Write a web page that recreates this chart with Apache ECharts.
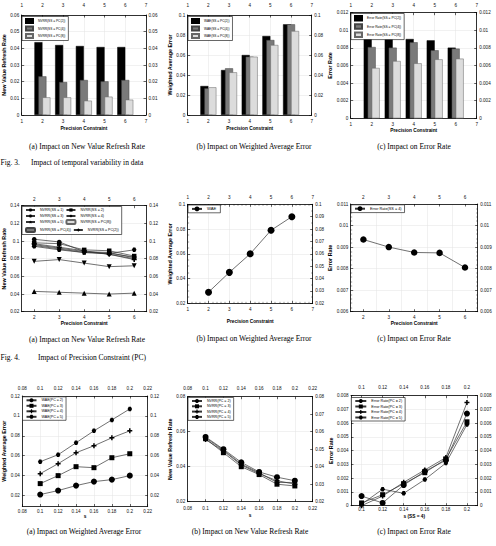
<!DOCTYPE html>
<html><head><meta charset="utf-8">
<script src="https://cdn.jsdelivr.net/npm/echarts@6/dist/echarts.min.js"></script>
<style>html,body{margin:0;padding:0;background:#fff}#c{width:496px;height:546px}</style>
</head><body><div id="c"></div>
<script>
// ---------------- DATA ----------------
const pcAxisCats = ['1','2','3','4','5','6','7'];   // Fig.3 x axis categories
const pcPointCats = ['2','3','4','5','6'];          // Fig.4 (a),(c) x categories
const pcValues = [2,3,4,5,6];
const sValues = [0.1,0.12,0.14,0.16,0.18,0.2];
const sTicksC = [0.1,0.12,0.14,0.16,0.18,0.2];
const waeRow3Ticks = [0.02,0.04,0.06,0.08,0.1,0.12];

// Fig. 3 (a) NVRR bars
const nvrrBarPC2 = [0.0437,0.0420,0.0414,0.0408,0.0408];
const nvrrBarPC4 = [0.0232,0.0198,0.0210,0.0202,0.0210];
const nvrrBarPC8 = [0.0106,0.0106,0.0086,0.0110,0.0092];
// Fig. 3 (b) WAE bars
const waeBarPC2 = [0.0290,0.0450,0.0600,0.0790,0.0907];
const waeBarPC4 = [0.0267,0.0467,0.0583,0.0750,0.0907];
const waeBarPC8 = [0.0277,0.0427,0.0583,0.0700,0.0840];
// Fig. 3 (c) Error rate bars
const errBarPC2 = [0.00909,0.00898,0.00901,0.00886,0.00803];
const errBarPC4 = [0.00810,0.00803,0.00864,0.00773,0.00792];
const errBarPC8 = [0.00572,0.00651,0.00625,0.00670,0.00678];

// Fig. 4 (a) NVRR lines
const nvrrSS1 = [0.102,0.099,0.088,0.087,0.081];
const nvrrSS2 = [0.098,0.097,0.090,0.089,0.083];
const nvrrSS3 = [0.094,0.090,0.087,0.086,0.090];
const nvrrSS4 = [0.096,0.092,0.088,0.085,0.080];
const nvrrSS5 = [0.095,0.091,0.087,0.086,0.082];
const nvrrSSPC8 = [0.043,0.042,0.041,0.040,0.041];
const nvrrSSPC4 = [0.077,0.079,0.075,0.071,0.072];
const nvrrSSPC2 = [0.097,0.093,0.089,0.085,0.079];
// Fig. 4 (b) WAE
const waePC = [0.029,0.045,0.060,0.079,0.090];
// Fig. 4 (c) Error rate
const errSS4 = [0.00935,0.00900,0.00875,0.00873,0.00805];

// Row 3 (a) WAE vs s
const waeS_PC2 = [0.021,0.025,0.030,0.034,0.036,0.040];
const waeS_PC3 = [0.032,0.040,0.049,0.048,0.058,0.062];
const waeS_PC4 = [0.042,0.052,0.063,0.070,0.078,0.085];
const waeS_PC5 = [0.054,0.061,0.073,0.085,0.096,0.107];
// Row 3 (b) NVRR vs s
const nvrrS_PC2 = [0.0570,0.0500,0.0425,0.0370,0.0340,0.0320];
const nvrrS_PC3 = [0.0560,0.0480,0.0400,0.0355,0.0300,0.0290];
const nvrrS_PC4 = [0.0555,0.0490,0.0410,0.0360,0.0320,0.0300];
const nvrrS_PC5 = [0.0565,0.0495,0.0415,0.0365,0.0310,0.0310];
// Row 3 (c) Error rate vs s
const errS_PC2 = [0.0007,0.0002,0.0015,0.0025,0.0033,0.0067];
const errS_PC3 = [0.0002,0.0008,0.0016,0.0024,0.0034,0.0061];
const errS_PC4 = [0.0000,0.0007,0.0017,0.0026,0.0035,0.0075];
const errS_PC5 = [0.0001,0.0012,0.0009,0.0019,0.0031,0.0059];

// ---------------- BUILD ----------------
const SANS = 'Liberation Sans';
const ZW = '\u200B';
const HEX = 'path://M-0.5,-0.87L0.5,-0.87L1,0L0.5,0.87L-0.5,0.87L-1,0Z';
const PLUS = 'path://M-0.3,-1H0.3V-0.3H1V0.3H0.3V1H-0.3V0.3H-1V-0.3H-0.3Z';
const STAR = 'path://M0,-1L0.29,-0.4L0.95,-0.31L0.47,0.15L0.59,0.81L0,0.5L-0.59,0.81L-0.47,0.15L-0.95,-0.31L-0.29,-0.4Z';
const TRIDOWN = 'path://M-1,-0.87L1,-0.87L0,0.87Z';

function merge(a,b){
  const o = Object.assign({}, a);
  for (const k in b){
    const v = b[k];
    if (v && typeof v === 'object' && !Array.isArray(v) && a && a[k] && typeof a[k] === 'object' && !Array.isArray(a[k])) o[k] = merge(a[k], v);
    else o[k] = v;
  }
  return o;
}
const grids=[], xAxes=[], yAxes=[], series=[], legends=[], graphics=[];
const GRID_LINE = {show:true, lineStyle:{color:'#e2e2e2', width:0.5}};

function panel(p){
  const g = grids.length;
  grids.push({left:p.left, top:p.top, width:p.width, height:p.height, containLabel:false, outerBoundsMode:'none'});
  const base = {
    gridIndex:g,
    axisLine:{show:true, onZero:false, lineStyle:{color:'#000', width:0.8}},
    axisTick:{show:true, inside:true, length:2.5, lineStyle:{color:'#000', width:0.6}},
    axisLabel:{show:true, fontFamily:SANS, fontSize:4.6, color:'#111', margin:3},
    splitLine:{show:false},
    nameTextStyle:{fontFamily:SANS, fontWeight:'bold', fontSize:4.8, color:'#000'}
  };
  const xb = merge(base, p.x);
  xAxes.push(merge(xb, {position:'bottom', name:p.xName, nameLocation:'middle', nameGap:p.xNameGap, splitLine:GRID_LINE, axisLabel:{margin:p.xLabelMargin}}));
  xAxes.push(merge(xb, {position:'top', axisLabel:{margin:p.topLabelMargin}}));
  const yb = merge(base, p.y);
  yAxes.push(merge(yb, {position:'left', name:p.yName, nameLocation:'middle', nameGap:p.yNameGap, nameTextStyle:{fontSize:5.4}, splitLine:GRID_LINE, axisLabel:{margin:2.5}}));
  yAxes.push(merge(merge(yb, p.yRight || {}), {position:'right', axisLabel:{margin:2.5}}));
  return g;
}
function pad(v){ return [null].concat(v, [null]); }
function pairs(xs, ys){ return xs.map((x,i)=>[x, ys[i]]); }

function barSeries(g, name, vals, color, border){
  series.push({type:'bar', name, xAxisIndex:2*g, yAxisIndex:2*g, data:pad(vals), barWidth:8, barGap:'-50%',
    itemStyle:{color, borderColor:border, borderWidth:0.5}});
}
function lineSeries(g, name, data, symbol, size){
  series.push({type:'line', name, xAxisIndex:2*g, yAxisIndex:2*g, data, symbol, symbolSize:size,
    lineStyle:{color:'#333', width:0.7}, itemStyle:{color:'#000', borderWidth:0}});
}
function legend(names, opt){
  legends.push(merge({data:names, orient:'vertical', selectedMode:false, itemWidth:10, itemHeight:4, itemGap:1.5,
    padding:[1.5,3,1.5,3], borderColor:'#000', borderWidth:0.6, borderRadius:0, backgroundColor:'#fff',
    textStyle:{fontFamily:SANS, fontSize:3.6, color:'#000'}}, opt));
}
function caption(text, x, y, align, font, fill){
  graphics.push({type:'text', x, y, silent:true, style:{text, fill:fill||'#000', font:font||'7.5px "Liberation Serif"',
    align:align||'center', verticalAlign:'middle', textAlign:align||'center', textVerticalAlign:'middle'}});
}

// ---- Fig.3 row ----
const catX17 = {type:'category', data:pcAxisCats, boundaryGap:false, axisTick:{alignWithLabel:true}};
let g;
g = panel({left:21.7, top:15, width:124.3, height:100, x:catX17, y:{type:'value', min:0, max:0.06, interval:0.01},
  xName:'Precision Constraint', xNameGap:11, xLabelMargin:4, topLabelMargin:7, yName:'New Value Refresh Rate', yNameGap:14});
barSeries(g,'NVRR(SS = PC(2))',nvrrBarPC2,'#000','#000');
barSeries(g,'NVRR(SS = PC(4))',nvrrBarPC4,'#7a7a7a','#444');
barSeries(g,'NVRR(SS = PC(8))',nvrrBarPC8,'#dcdcdc','#666');
legend(['NVRR(SS = PC(2))','NVRR(SS = PC(4))','NVRR(SS = PC(8))'], {left:22, top:16.5, icon:'rect', itemWidth:7, itemHeight:4, textStyle:{fontSize:3.2}});

g = panel({left:187.7, top:15, width:124, height:100, x:catX17, y:{type:'value', min:0, max:0.1, interval:0.02},
  xName:'Precision Constraint', xNameGap:11, xLabelMargin:4, topLabelMargin:7, yName:'Weighted Average Error', yNameGap:14});
barSeries(g,'WAE(SS = PC(2))',waeBarPC2,'#000','#000');
barSeries(g,'WAE(SS = PC(4))',waeBarPC4,'#7a7a7a','#444');
barSeries(g,'WAE(SS = PC(8))',waeBarPC8,'#dcdcdc','#666');
legend(['WAE(SS = PC(2))','WAE(SS = PC(4))','WAE(SS = PC(8))'], {left:188, top:16.5, icon:'rect', itemWidth:7, itemHeight:4, textStyle:{fontSize:3.2}});

g = panel({left:350.7, top:12.7, width:126, height:105.6, x:catX17, y:{type:'value', min:0, max:0.012, interval:0.002},
  xName:'Precision Constraint', xNameGap:8, xLabelMargin:4, topLabelMargin:4.5, yName:'Error Rate', yNameGap:15});
barSeries(g,'Error Rate(SS = PC(2))',errBarPC2,'#000','#000');
barSeries(g,'Error Rate(SS = PC(4))',errBarPC4,'#7a7a7a','#444');
barSeries(g,'Error Rate(SS = PC(8))',errBarPC8,'#dcdcdc','#666');
legend(['Error Rate(SS = PC(2))','Error Rate(SS = PC(4))','Error Rate(SS = PC(8))'], {left:351, top:13.5, icon:'rect', itemWidth:7, itemHeight:4.5, itemGap:1.8, textStyle:{fontSize:3.3}});

caption('(a) Impact on New Value Refresh Rate', 87, 146);
caption('(b) Impact on Weighted Average Error', 254, 146);
caption('(c) Impact on Error Rate', 414, 146);
caption('Fig. 3.', 0.5, 162, 'left');
caption('Impact of temporal variability in data', 31, 162, 'left');

// ---- Fig.4 row ----
const catX26 = {type:'category', data:pcPointCats, boundaryGap:true, axisTick:{alignWithLabel:true}};
g = panel({left:21.7, top:205.7, width:125, height:106, x:catX26, y:{type:'value', min:0.02, max:0.14, interval:0.02},
  xName:'Precision Constraint', xNameGap:9, xLabelMargin:3, topLabelMargin:4, yName:'New Value Refresh Rate', yNameGap:14});
lineSeries(g,'NVRR(SS = 1)',nvrrSS1,'circle',4.5);
lineSeries(g,'NVRR(SS = 2)',nvrrSS2,'rect',4.5);
lineSeries(g,'NVRR(SS = 3)',nvrrSS3,HEX,4.5);
lineSeries(g,'NVRR(SS = 4)',nvrrSS4,'diamond',4);
lineSeries(g,'NVRR(SS = 5)',nvrrSS5,STAR,5);
lineSeries(g,'NVRR(SS = PC(8))',nvrrSSPC8,'triangle',5);
lineSeries(g,'NVRR(SS = PC(4))',nvrrSSPC4,TRIDOWN,5);
lineSeries(g,'NVRR(SS = PC(2))'+ZW,nvrrSSPC2,PLUS,5);
legend(['NVRR(SS = 1)','NVRR(SS = 2)','NVRR(SS = 3)','NVRR(SS = 4)','NVRR(SS = 5)','NVRR(SS = PC(8))','NVRR(SS = PC(4))','NVRR(SS = PC(2))'+ZW],
  {orient:'horizontal', left:22, top:206.5, width:119, itemWidth:9, itemHeight:4, itemGap:2, padding:[1.5,3,1.5,3], textStyle:{fontSize:3.6}});

g = panel({left:187.7, top:204.3, width:125, height:99, x:{type:'value', min:1, max:7, interval:1, minorTick:{show:true, splitNumber:5, length:1.5, lineStyle:{color:'#000', width:0.4}}},
  y:{type:'value', min:0.02, max:0.1, interval:0.02, minorTick:{show:true, splitNumber:4, length:1.5, lineStyle:{color:'#000', width:0.4}}},
  yRight:{interval:0.01, minorTick:{splitNumber:2}},
  xName:'Precision Constraint', xNameGap:16, xLabelMargin:3.5, topLabelMargin:4, yName:'Weighted Average Error', yNameGap:15});
lineSeries(g,'WAE',pairs(pcValues,waePC),'circle',7);
legend(['WAE'], {left:188, top:205, itemWidth:10, itemHeight:6, textStyle:{fontSize:4.2}, padding:[1.5,4,1.5,3]});

g = panel({left:350.7, top:204, width:127, height:107.7, x:catX26,
  y:{type:'value', min:0.006, max:0.011, interval:0.001, minorTick:{show:true, splitNumber:5, length:1.5, lineStyle:{color:'#000', width:0.4}}},
  xName:'Precision Constraint', xNameGap:9, xLabelMargin:3, topLabelMargin:4, yName:'Error Rate', yNameGap:15});
lineSeries(g,'Error Rate(SS = 4)',errSS4,'circle',6.5);
legend(['Error Rate(SS = 4)'], {left:351, top:204.8, itemWidth:10, itemHeight:6, textStyle:{fontSize:3.8}, padding:[1.5,3,1.5,3]});

caption('(a) Impact on New Value Refresh Rate', 87, 339);
caption('(b) Impact on Weighted Average Error', 254, 338);
caption('(c) Impact on Error Rate', 414, 338);
caption('Fig. 4.', 0.5, 357, 'left');
caption('Impact of Precision Constraint (PC)', 38, 357, 'left');

// ---- bottom row ----
const sAxis = {type:'value', min:0.08, max:0.22, interval:0.02};
g = panel({left:22.3, top:396, width:125.4, height:110.5, x:sAxis,
  y:{type:'value', min:0.009, max:0.12, axisLabel:{customValues:waeRow3Ticks}, axisTick:{customValues:waeRow3Ticks}},
  xName:'s', xNameGap:7, xLabelMargin:2, topLabelMargin:5.5, yName:'Weighted Average Error', yNameGap:15});
lineSeries(g,'WAE(PC = 2)',pairs(sValues,waeS_PC2),'circle',6);
lineSeries(g,'WAE(PC = 3)',pairs(sValues,waeS_PC3),'rect',5);
lineSeries(g,'WAE(PC = 4)',pairs(sValues,waeS_PC4),PLUS,5);
lineSeries(g,'WAE(PC = 5)',pairs(sValues,waeS_PC5),HEX,4.5);
legend(['WAE(PC = 2)','WAE(PC = 3)','WAE(PC = 4)','WAE(PC = 5)'], {left:22.5, top:396.8, itemWidth:10, itemHeight:5, itemGap:1.5, textStyle:{fontSize:3.6}});

g = panel({left:187.7, top:396.7, width:125, height:105, x:sAxis,
  y:{type:'value', min:0.02, max:0.08, interval:0.02}, yRight:{interval:0.01},
  xName:'s', xNameGap:11, xLabelMargin:4, topLabelMargin:5.5, yName:'New Value Refresh Rate', yNameGap:15});
lineSeries(g,'NVRR(PC = 2)',pairs(sValues,nvrrS_PC2),'circle',6);
lineSeries(g,'NVRR(PC = 3)',pairs(sValues,nvrrS_PC3),'rect',5);
lineSeries(g,'NVRR(PC = 4)',pairs(sValues,nvrrS_PC4),PLUS,5);
lineSeries(g,'NVRR(PC = 5)',pairs(sValues,nvrrS_PC5),HEX,4.5);
legend(['NVRR(PC = 2)','NVRR(PC = 3)','NVRR(PC = 4)','NVRR(PC = 5)'], {left:188, top:397.5, itemWidth:10, itemHeight:5, itemGap:1.3, textStyle:{fontSize:3.6}});

g = panel({left:351, top:395.7, width:126.5, height:110,
  x:{type:'value', min:0.09, max:0.21, axisLabel:{customValues:sTicksC}, axisTick:{customValues:sTicksC}},
  y:{type:'value', min:0, max:0.008, interval:0.001},
  xName:'s (SS = 4)', xNameGap:8.5, xLabelMargin:1.5, topLabelMargin:5.5, yName:'Error Rate', yNameGap:16});
lineSeries(g,'Error Rate(PC = 2)',pairs(sValues,errS_PC2),'circle',6);
lineSeries(g,'Error Rate(PC = 3)',pairs(sValues,errS_PC3),'rect',5);
lineSeries(g,'Error Rate(PC = 4)',pairs(sValues,errS_PC4),PLUS,5);
lineSeries(g,'Error Rate(PC = 5)',pairs(sValues,errS_PC5),HEX,4.5);
legend(['Error Rate(PC = 2)','Error Rate(PC = 3)','Error Rate(PC = 4)','Error Rate(PC = 5)'], {left:351.3, top:397.5, itemWidth:11, itemHeight:5, itemGap:1.5, textStyle:{fontSize:3.7}});

caption('(a) Impact on Weighted Average Error', 84, 531);
caption('(b) Impact on New Value Refresh Rate', 250, 531);
caption('(c) Impact on Error Rate', 414, 531);

const chart = echarts.init(document.getElementById('c'), null, {renderer:'svg'});
chart.setOption({animation:false, backgroundColor:'#fff', grid:grids, xAxis:xAxes, yAxis:yAxes, series, legend:legends, graphic:graphics});
</script></body></html>
